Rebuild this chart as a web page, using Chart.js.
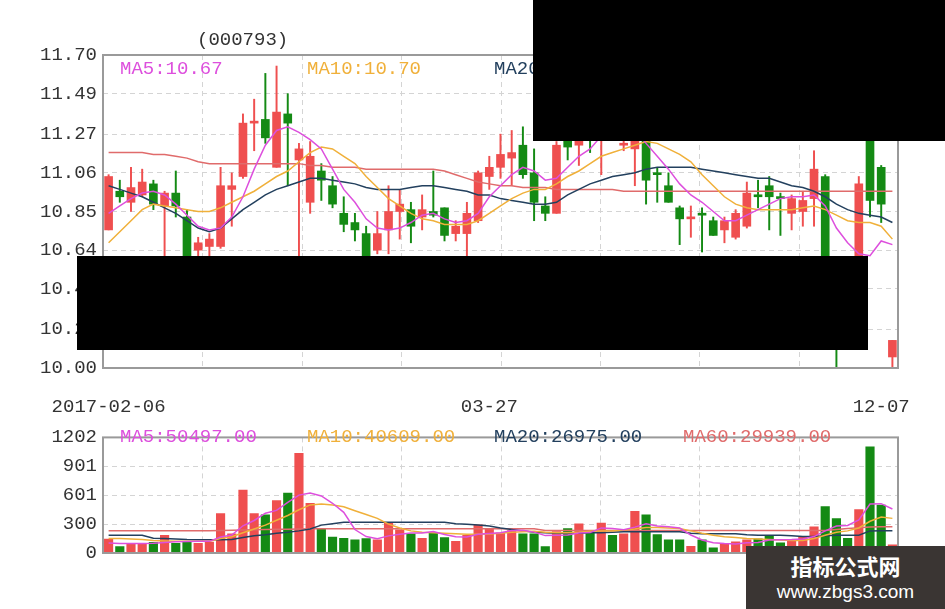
<!DOCTYPE html>
<html>
<head>
<meta charset="utf-8">
<script src="https://cdn.jsdelivr.net/npm/chart.js@4.4.1/dist/chart.umd.min.js"></script>
<style>
  body { margin: 0; background: #fff; }
  #page { position: relative; width: 945px; height: 609px; overflow: hidden; background: #fff; }
  .abs { position: absolute; white-space: nowrap; }
  .lbl { font-family: 'Liberation Mono', monospace; font-size: 19px; line-height: 22px; }
  .box { background: #000; }
  #wm { background: #3a3533; color: #fff; text-align: center; }
  #wm .cn { font-family: 'Noto Sans CJK SC', sans-serif; font-weight: bold; font-size: 22px; line-height: 26px; margin-top: 6px; }
  #wm .url { font-family: 'Liberation Sans', sans-serif; font-size: 19px; line-height: 22px; margin-top: 3px; }
</style>
</head>
<body>
<div id="page">
  <canvas id="priceChart" class="abs" width="945" height="420" style="left:0;top:0"></canvas>
  <canvas id="volChart" class="abs" width="945" height="189" style="left:0;top:420px"></canvas>

  <div class="abs lbl" style="left:197px;top:29px;color:#333">(000793)</div>

  <div class="abs lbl" style="left:120px;top:58px;color:#dd4fdd">MA5:10.67</div>
  <div class="abs lbl" style="left:307px;top:58px;color:#f0b03a">MA10:10.70</div>
  <div class="abs lbl" style="left:494px;top:58px;color:#23405e">MA20:10.79</div>
  <div class="abs lbl" style="left:683px;top:58px;color:#e06b6b">MA60:10.96</div>

  <div class="abs lbl" style="left:120px;top:426px;color:#dd4fdd">MA5:50497.00</div>
  <div class="abs lbl" style="left:307px;top:426px;color:#f0b03a">MA10:40609.00</div>
  <div class="abs lbl" style="left:494px;top:426px;color:#23405e">MA20:26975.00</div>
  <div class="abs lbl" style="left:683px;top:426px;color:#e06b6b">MA60:29939.00</div>

  <div class="abs box" style="left:533px;top:0;width:412px;height:141px"></div>
  <div class="abs box" style="left:77px;top:256px;width:791px;height:94px"></div>

  <div id="wm" class="abs" style="left:746px;top:546px;width:199px;height:63px">
    <div class="cn">指标公式网</div>
    <div class="url">www.zbgs3.com</div>
  </div>
</div>

<script>
// candles (open / high / low / close)
var opens  = [10.75,10.96,10.90,10.94,11.00,10.88,10.95,10.82,10.64,10.66, 10.66,10.97,11.04,11.33,11.35,11.09,11.38,11.13,10.90,11.07,
              10.99,10.84,10.79,10.73,10.64,10.75,10.85,10.86,10.82,10.85, 10.87,10.73,10.73,10.80,11.04,11.09,11.14,11.21,11.06,10.88,
              10.84,11.26,11.21,11.35,11.28,11.45,11.21,11.19,11.30,11.06, 10.99,10.87,10.81,10.84,10.80,10.75,10.71,10.77,10.94,10.99,
              10.93,10.84,10.85,10.92,11.04,10.45,10.50,10.40,11.30,11.09, 10.06];
var highs  = [11.05,11.02,11.09,11.08,11.02,10.96,11.07,10.86,10.71,10.73, 11.09,11.06,11.38,11.46,11.60,11.64,11.49,11.22,11.23,11.11,
              11.04,10.93,10.84,10.77,10.85,10.99,10.97,10.90,10.94,11.07, 10.87,10.80,10.90,11.07,11.15,11.27,11.29,11.31,11.19,10.93,
              11.23,11.35,11.30,11.40,11.45,11.50,11.30,11.32,11.36,11.09, 11.06,10.88,10.88,10.87,10.82,10.82,10.86,11.01,11.02,11.04,
              10.95,10.94,10.96,11.18,11.05,10.55,10.55,11.04,11.40,11.10, 10.15];
var lows   = [10.75,10.90,10.85,10.93,10.86,10.58,10.82,10.50,10.58,10.60, 10.65,10.77,11.03,11.18,11.22,11.09,10.99,10.55,10.84,10.91,
              10.87,10.74,10.69,10.55,10.62,10.62,10.70,10.68,10.75,10.82, 10.69,10.69,10.60,10.79,10.97,11.03,10.99,11.03,10.80,10.80,
              10.84,11.13,11.10,11.17,11.05,11.30,11.18,10.99,10.89,10.90, 10.90,10.67,10.71,10.63,10.72,10.68,10.70,10.76,10.87,10.75,
              10.72,10.75,10.77,10.77,10.40,9.99,10.30,10.35,10.82,10.79, 10.00];
var closes = [11.04,10.93,10.98,11.01,10.89,10.95,10.88,10.55,10.68,10.70, 10.99,10.99,11.33,11.34,11.25,11.39,11.33,11.19,11.15,11.02,
              10.89,10.78,10.75,10.58,10.73,10.85,10.89,10.77,10.86,10.83, 10.72,10.77,10.84,11.06,11.09,11.16,11.17,11.05,10.90,10.84,
              11.21,11.20,11.25,11.27,11.40,11.38,11.22,11.26,11.02,11.05, 10.90,10.81,10.82,10.83,10.72,10.80,10.84,10.95,10.93,10.93,
              10.92,10.92,10.91,11.08,10.44,10.30,10.40,11.00,10.91,10.89, 10.15];

// price moving averages
var ma5  = [10.84,10.88,10.92,10.95,10.96,10.94,10.89,10.83,10.77,10.75, 10.76,10.82,10.93,11.08,11.21,11.29,11.31,11.28,11.24,11.19,
            11.08,10.97,10.90,10.81,10.76,10.75,10.76,10.79,10.83,10.84, 10.81,10.79,10.80,10.84,10.93,10.99,11.05,11.09,11.07,11.02,
            11.03,11.09,11.15,11.19,11.26,11.30,11.31,11.29,11.22,11.15, 11.08,11.00,10.94,10.90,10.85,10.80,10.80,10.83,10.86,10.89,
            10.92,10.93,10.93,10.94,10.88,10.76,10.68,10.62,10.61,10.69, 10.67];
var ma10 = [10.68,10.74,10.80,10.86,10.89,10.88,10.87,10.86,10.85,10.85, 10.87,10.90,10.93,10.96,11.00,11.04,11.07,11.12,11.17,11.20,
            11.19,11.15,11.11,11.04,10.98,10.92,10.88,10.84,10.81,10.80, 10.78,10.78,10.78,10.80,10.84,10.88,10.92,10.95,10.97,10.97,
            11.00,11.04,11.07,11.11,11.15,11.17,11.19,11.21,11.23,11.22, 11.19,11.16,11.12,11.05,10.99,10.93,10.89,10.87,10.86,10.86,
            10.86,10.86,10.87,10.88,10.86,10.83,10.80,10.79,10.79,10.77, 10.70];
var ma20 = [10.99,10.97,10.95,10.93,10.90,10.87,10.84,10.80,10.76,10.74, 10.76,10.81,10.86,10.90,10.94,10.97,10.99,11.01,11.03,11.03,
            11.02,11.01,11.00,10.98,10.97,10.97,10.97,10.98,10.99,10.99, 10.98,10.97,10.96,10.94,10.94,10.92,10.91,10.90,10.89,10.89,
            10.90,10.94,10.97,11.00,11.02,11.04,11.05,11.06,11.08,11.09, 11.09,11.09,11.09,11.08,11.07,11.06,11.05,11.04,11.03,11.03,
            11.01,10.99,10.98,10.96,10.93,10.89,10.86,10.84,10.83,10.82, 10.79];
var ma60 = [11.17,11.17,11.17,11.17,11.16,11.16,11.15,11.14,11.12,11.11, 11.11,11.11,11.11,11.11,11.11,11.11,11.11,11.11,11.10,11.10,
            11.09,11.09,11.09,11.08,11.08,11.08,11.08,11.08,11.08,11.08, 11.07,11.05,11.03,11.01,11.00,10.99,10.99,10.98,10.98,10.98,
            10.97,10.97,10.97,10.97,10.97,10.97,10.96,10.96,10.96,10.96, 10.96,10.96,10.96,10.96,10.96,10.96,10.96,10.96,10.96,10.96,
            10.96,10.96,10.96,10.96,10.96,10.96,10.96,10.96,10.96,10.96, 10.96];

// volume bars and their moving averages
var volumes = [144,66,95,95,110,183,100,110,100,113, 410,200,654,410,397,545,623,1036,516,247,
               165,153,138,150,138,310,241,200,153,210, 160,122,185,294,247,207,232,200,200,66,
               222,254,303,216,310,185,200,432,397,191, 138,138,69,138,54,91,116,138,147,185,
               106,122,169,272,482,357,153,451,1105,498, 85];
var vma5  = [105,100,98,100,102,110,116,120,121,121, 167,187,283,338,414,443,526,602,623,593,
             517,423,244,171,149,178,195,208,208,223, 193,169,166,194,202,211,233,236,217,181,
             184,188,209,212,261,254,243,269,305,281, 272,259,187,135,107,98,94,107,109,135,
             138,140,146,171,230,280,287,343,510,513, 458];
var vma10 = [150,150,145,140,130,125,122,122,122,122, 150,170,210,250,290,340,390,450,500,510,
             500,480,440,400,360,300,260,230,215,210, 205,200,195,195,198,205,215,220,225,215,
             210,210,215,225,230,230,240,250,265,265, 260,255,230,205,185,170,160,150,145,140,
             135,130,130,150,185,215,230,260,330,375, 360];
var vma20 = [185,185,185,185,153,150,145,140,138,138, 138,140,160,180,190,205,216,230,250,290,
             305,320,320,320,320,320,320,320,320,320, 320,305,300,290,280,260,245,230,216,210,
             205,205,205,210,210,215,220,222,222,222, 222,222,205,200,200,200,200,190,185,185,
             185,180,172,172,180,185,185,185,230,232, 232];
var vma60 = [232,232,232,232,232,232,232,232,232,232, 235,237,240,242,244,246,248,250,252,252,
             252,252,252,252,252,252,252,252,252,252, 252,252,252,252,252,252,252,252,252,235,
             235,235,235,235,235,235,235,235,235,235, 235,235,235,235,235,235,235,235,235,235,
             235,235,235,235,235,245,255,262,270,272, 272];

// axis labels
var priceTicks = [10.00, 10.21, 10.43, 10.64, 10.85, 11.06, 11.27, 11.49, 11.70];
var volTicks = [0, 300, 601, 901, 1202];
var dateIdx = [0, 34, 69];
var dateText = ['2017-02-06', '03-27', '12-07'];

var RED = '#ef4f4f', GREEN = '#148a14';
var cMA5 = '#dd4fdd', cMA10 = '#f0b03a', cMA20 = '#23405e', cMA60 = '#e06b6b';
var monoFont = { family: 'Liberation Mono', size: 19 };

var cats = opens.map(function (o, i) { return i; });
var colors = opens.map(function (o, i) { return closes[i] >= o ? RED : GREEN; });

// vertical dashed grid (8 equal parts, not tied to the bars) and the grey frame
var frame = {
    id: 'frame',
    beforeDatasetsDraw: function (chart) {
        var a = chart.chartArea, c = chart.ctx;
        var w = (a.right - a.left) / 8;
        c.save();
        c.strokeStyle = '#d4d4d4';
        c.lineWidth = 1;
        c.setLineDash([5, 4]);
        for (var k = 1; k < 8; k++) {
            var x = Math.round(a.left + k * w) + 0.5;
            c.beginPath();
            c.moveTo(x, a.top);
            c.lineTo(x, a.bottom);
            c.stroke();
        }
        c.restore();
    },
    afterDatasetsDraw: function (chart) {
        var a = chart.chartArea, c = chart.ctx;
        c.save();
        c.strokeStyle = '#9a9a9a';
        c.lineWidth = 2;
        c.strokeRect(a.left, a.top, a.right - a.left, a.bottom - a.top);
        c.restore();
    }
};

function maLine(data, color) {
    return {
        type: 'line', data: data, borderColor: color, borderWidth: 1.5,
        pointRadius: 0, tension: 0, fill: false, order: 0
    };
}

var priceChart = new Chart(document.getElementById('priceChart').getContext('2d'), {
    type: 'bar',
    data: {
        labels: cats,
        datasets: [
            maLine(ma5, cMA5),
            maLine(ma10, cMA10),
            maLine(ma20, cMA20),
            maLine(ma60, cMA60),
            {   // bodies
                data: opens.map(function (o, i) { return [o, closes[i]]; }),
                backgroundColor: colors, barThickness: 8, minBarLength: 2,
                grouped: false, order: 1
            },
            {   // wicks
                data: lows.map(function (l, i) { return [l, highs[i]]; }),
                backgroundColor: colors, barThickness: 1.3,
                grouped: false, order: 2
            }
        ]
    },
    options: {
        responsive: false,
        animation: false,
        layout: { padding: { top: 55, right: 47, left: 0, bottom: 0 } },
        plugins: { legend: { display: false }, tooltip: { enabled: false } },
        scales: {
            x: {
                offset: true,
                grid: { display: false },
                border: { display: false },
                ticks: {
                    autoSkip: false, maxRotation: 0, padding: 20, color: '#333', font: monoFont,
                    callback: function (v, i) { var k = dateIdx.indexOf(i); return k < 0 ? '' : dateText[k]; }
                },
                afterFit: function (s) { s.height = 52; }
            },
            y: {
                min: 10.0, max: 11.7,
                afterBuildTicks: function (s) { s.ticks = priceTicks.map(function (v) { return { value: v }; }); },
                ticks: { padding: 6, color: '#333', font: monoFont, callback: function (v) { return v.toFixed(2); } },
                grid: { color: '#d4d4d4', drawTicks: false },
                border: { display: false, dash: [5, 4] },
                afterFit: function (s) { s.width = 103; }
            }
        }
    },
    plugins: [frame]
});

var volChart = new Chart(document.getElementById('volChart').getContext('2d'), {
    type: 'bar',
    data: {
        labels: cats,
        datasets: [
            maLine(vma5, cMA5),
            maLine(vma10, cMA10),
            maLine(vma20, cMA20),
            maLine(vma60, cMA60),
            {
                data: volumes, backgroundColor: colors,
                barThickness: 8.5, grouped: false, order: 1
            }
        ]
    },
    options: {
        responsive: false,
        animation: false,
        layout: { padding: { top: 5, right: 47, left: 0, bottom: 56 } },
        plugins: { legend: { display: false }, tooltip: { enabled: false } },
        scales: {
            x: { offset: true, display: false },
            y: {
                min: 0, max: 1202,
                afterBuildTicks: function (s) { s.ticks = volTicks.map(function (v) { return { value: v }; }); },
                ticks: { padding: 6, color: '#333', font: monoFont, callback: function (v) { return String(v); } },
                grid: { color: '#d4d4d4', drawTicks: false },
                border: { display: false, dash: [5, 4] },
                afterFit: function (s) { s.width = 103; }
            }
        }
    },
    plugins: [frame]
});
</script>
</body>
</html>
